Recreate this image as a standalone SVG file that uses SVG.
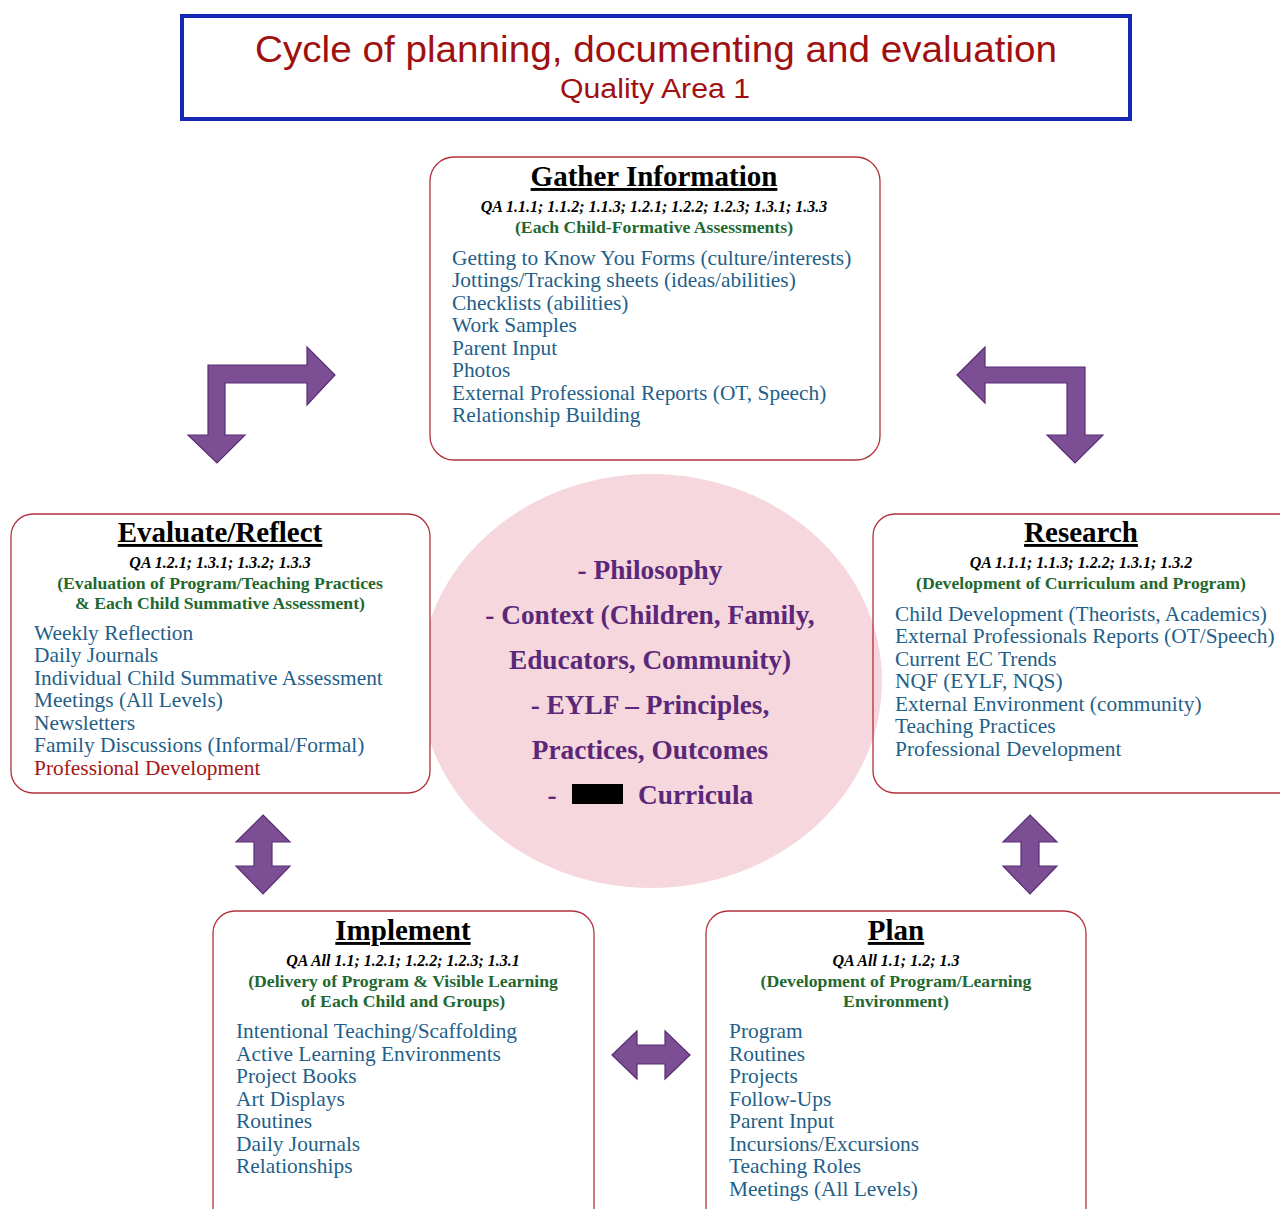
<svg xmlns="http://www.w3.org/2000/svg" width="1280" height="1209" viewBox="0 0 1280 1209">
<defs>
<style>
.box{fill:#fff;stroke:#b3303c;stroke-width:1.3}
.hd{font-family:"Liberation Serif",serif;font-weight:bold;font-size:29px;fill:#000;text-anchor:middle;text-decoration:underline}
.qa{font-family:"Liberation Serif",serif;font-weight:bold;font-style:italic;font-size:16px;fill:#000;text-anchor:middle}
.gr{font-family:"Liberation Serif",serif;font-weight:bold;font-size:17.7px;fill:#22682f;text-anchor:middle}
.it{font-family:"Liberation Serif",serif;font-size:21.4px;fill:#1f5f89}
.ct{font-family:"Liberation Serif",serif;font-weight:bold;font-size:27.3px;fill:#5b2879;text-anchor:middle}
.arr{fill:#7c4f95;stroke:#5a2c76;stroke-width:1.2;stroke-linejoin:miter}
.tt{font-family:"Liberation Sans",sans-serif;fill:#a01010;text-anchor:middle}
</style>
</defs>
<rect width="1280" height="1209" fill="#fff"/>

<g id="title">
<rect x="182" y="16" width="948" height="103" fill="#fff" stroke="#1428b4" stroke-width="4"/>
<text class="tt" x="656" y="62" font-size="36" textLength="802" lengthAdjust="spacingAndGlyphs">Cycle of planning, documenting and evaluation</text>
<text class="tt" x="655" y="98" font-size="27" textLength="190" lengthAdjust="spacingAndGlyphs">Quality Area 1</text>
</g>

<g id="center">
<ellipse cx="651" cy="681" rx="231" ry="207" fill="#f5d7dd"/>
<text class="ct" x="650" y="579">- Philosophy</text>
<text class="ct" x="650" y="624">- Context (Children, Family,</text>
<text class="ct" x="650" y="669">Educators, Community)</text>
<text class="ct" x="650" y="714">- EYLF – Principles,</text>
<text class="ct" x="650" y="759">Practices, Outcomes</text>
<text class="ct" x="552" y="804">-</text>
<rect x="572" y="784" width="51" height="20" fill="#000"/>
<text class="ct" x="638" y="804" style="text-anchor:start">Curricula</text>
</g>

<g id="gather">
<rect class="box" x="430" y="157" width="450" height="303" rx="24"/>
<text class="hd" x="654" y="186">Gather Information</text>
<text class="qa" x="654" y="212">QA 1.1.1; 1.1.2; 1.1.3; 1.2.1; 1.2.2; 1.2.3; 1.3.1; 1.3.3</text>
<text class="gr" x="654" y="233">(Each Child-Formative Assessments)</text>
<text class="it" x="452" y="265">Getting to Know You Forms (culture/interests)</text>
<text class="it" x="452" y="287">Jottings/Tracking sheets (ideas/abilities)</text>
<text class="it" x="452" y="310">Checklists (abilities)</text>
<text class="it" x="452" y="332">Work Samples</text>
<text class="it" x="452" y="355">Parent Input</text>
<text class="it" x="452" y="377">Photos</text>
<text class="it" x="452" y="400">External Professional Reports (OT, Speech)</text>
<text class="it" x="452" y="422">Relationship Building</text>
</g>

<g id="evaluate">
<rect class="box" x="11" y="514" width="419" height="279" rx="22"/>
<text class="hd" x="220" y="542">Evaluate/Reflect</text>
<text class="qa" x="220" y="568">QA 1.2.1; 1.3.1; 1.3.2; 1.3.3</text>
<text class="gr" x="220" y="589">(Evaluation of Program/Teaching Practices</text>
<text class="gr" x="220" y="609">&amp; Each Child Summative Assessment)</text>
<text class="it" x="34" y="640">Weekly Reflection</text>
<text class="it" x="34" y="662">Daily Journals</text>
<text class="it" x="34" y="685">Individual Child Summative Assessment</text>
<text class="it" x="34" y="707">Meetings (All Levels)</text>
<text class="it" x="34" y="730">Newsletters</text>
<text class="it" x="34" y="752">Family Discussions (Informal/Formal)</text>
<text class="it" x="34" y="775" style="fill:#a51515">Professional Development</text>
</g>

<g id="research">
<rect class="box" x="873" y="514" width="430" height="279" rx="22" style="fill:none"/>
<text class="hd" x="1081" y="542">Research</text>
<text class="qa" x="1081" y="568">QA 1.1.1; 1.1.3; 1.2.2; 1.3.1; 1.3.2</text>
<text class="gr" x="1081" y="589">(Development of Curriculum and Program)</text>
<text class="it" x="895" y="621">Child Development (Theorists, Academics)</text>
<text class="it" x="895" y="643">External Professionals Reports (OT/Speech)</text>
<text class="it" x="895" y="666">Current EC Trends</text>
<text class="it" x="895" y="688">NQF (EYLF, NQS)</text>
<text class="it" x="895" y="711">External Environment (community)</text>
<text class="it" x="895" y="733">Teaching Practices</text>
<text class="it" x="895" y="756">Professional Development</text>
</g>

<g id="implement">
<rect class="box" x="213" y="911" width="381" height="320" rx="22"/>
<text class="hd" x="403" y="940">Implement</text>
<text class="qa" x="403" y="966">QA All 1.1; 1.2.1; 1.2.2; 1.2.3; 1.3.1</text>
<text class="gr" x="403" y="987">(Delivery of Program &amp; Visible Learning</text>
<text class="gr" x="403" y="1007">of Each Child and Groups)</text>
<text class="it" x="236" y="1038">Intentional Teaching/Scaffolding</text>
<text class="it" x="236" y="1061">Active Learning Environments</text>
<text class="it" x="236" y="1083">Project Books</text>
<text class="it" x="236" y="1106">Art Displays</text>
<text class="it" x="236" y="1128">Routines</text>
<text class="it" x="236" y="1151">Daily Journals</text>
<text class="it" x="236" y="1173">Relationships</text>
</g>

<g id="plan">
<rect class="box" x="706" y="911" width="380" height="320" rx="22"/>
<text class="hd" x="896" y="940">Plan</text>
<text class="qa" x="896" y="966">QA All 1.1; 1.2; 1.3</text>
<text class="gr" x="896" y="987">(Development of Program/Learning</text>
<text class="gr" x="896" y="1007">Environment)</text>
<text class="it" x="729" y="1038">Program</text>
<text class="it" x="729" y="1061">Routines</text>
<text class="it" x="729" y="1083">Projects</text>
<text class="it" x="729" y="1106">Follow-Ups</text>
<text class="it" x="729" y="1128">Parent Input</text>
<text class="it" x="729" y="1151">Incursions/Excursions</text>
<text class="it" x="729" y="1173">Teaching Roles</text>
<text class="it" x="729" y="1196">Meetings (All Levels)</text>
</g>

<g id="connectors">
<polygon class="arr" points="208,365 307,365 307,347 335,375 307,405 307,383 225,383 225,435 245,435 217,463 188,435 208,435"/>
<polygon class="arr" points="957,375 985,347 985,367 1085,367 1085,435 1103,435 1075,463 1047,435 1067,435 1067,383 985,383 985,403"/>
<polygon class="arr" points="263,815 290,842 272,842 272,866 290,866 263,894 236,866 254,866 254,842 236,842"/>
<polygon class="arr" points="1030,815 1057,842 1039,842 1039,866 1057,866 1030,894 1003,866 1021,866 1021,842 1003,842"/>
<polygon class="arr" points="612,1055 637,1031 637,1045 665,1045 665,1031 690,1055 665,1079 665,1064 637,1064 637,1079"/>
</g>
</svg>
